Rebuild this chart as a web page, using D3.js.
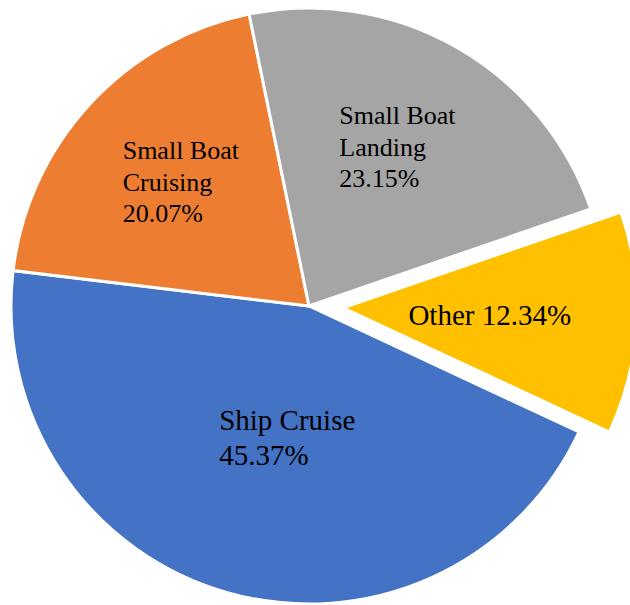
<!DOCTYPE html>
<html>
<head>
<meta charset="utf-8">
<script src="https://cdn.jsdelivr.net/npm/d3@7"></script>
<style>
  body { margin: 0; background: #fff; }
</style>
</head>
<body>
<script>
// chart data
var categories = ["Ship Cruise", "Small Boat Cruising", "Small Boat Landing", "Other"];
var labelLines = [["Ship Cruise"], ["Small Boat", "Cruising"], ["Small Boat", "Landing"], ["Other"]];
var values = [45.37, 20.07, 23.15, 12.34];
var colors = ["#4472C4", "#ED7D31", "#A5A5A5", "#FFC000"];

var width = 630, height = 605,
    cx = 309, cy = 306, radius = 298;

var svg = d3.select("body").append("svg")
    .attr("width", width)
    .attr("height", height)
    .append("g")
    .attr("transform", "translate(" + cx + "," + cy + ")");

var deg = Math.PI / 180;
var pie = d3.pie()
    .sort(null)
    .value(function(d) { return d.value; })
    .startAngle(115 * deg)
    .endAngle(475 * deg);

var data = categories.map(function(c, i) {
    return {name: c, lines: labelLines[i], value: values[i], color: colors[i]};
});
var arcs = pie(data);

// the "Other" slice is pulled out
var explode = {"Other": 34};
var rOut = {"Other": 294};
// label placement: radius and angle nudge (deg) from the slice middle
var lbl = {
    "Ship Cruise": {r: 133, da: -6.5, size: 29},
    "Small Boat Cruising": {r: 178, da: 1.5, size: 26},
    "Small Boat Landing": {r: 182, da: -0.5, size: 26},
    "Other": {r: 147, da: 0, size: 29}
};

function offset(d) {
    var e = explode[d.data.name] || 0;
    var a = (d.startAngle + d.endAngle) / 2;
    return [Math.sin(a) * e, -Math.cos(a) * e];
}

var slices = svg.selectAll(".slice")
    .data(arcs)
    .enter().append("g")
    .attr("class", "slice")
    .attr("transform", function(d) { return "translate(" + offset(d) + ")"; });

slices.append("path")
    .attr("d", function(d) {
        return d3.arc().innerRadius(0).outerRadius(rOut[d.data.name] || radius)(d);
    })
    .attr("fill", function(d) { return d.data.color; })
    .attr("stroke", "#fff")
    .attr("stroke-width", 3)
    .attr("stroke-linejoin", "miter");

// labels, one text element per line
slices.each(function(d) {
    var g = d3.select(this);
    var o = lbl[d.data.name];
    var a = (d.startAngle + d.endAngle) / 2 + o.da * deg;
    var x = Math.sin(a) * o.r, y = -Math.cos(a) * o.r;
    var pct = d.data.value.toFixed(2) + "%";
    var lines = d.data.lines.slice();
    if (d.data.name == "Other") lines = [lines[0] + " " + pct];
    else lines.push(pct);
    var lh = o.size * 1.2;
    var box = g.append("g");
    lines.forEach(function(s, i) {
        box.append("text")
            .attr("x", 0)
            .attr("y", i * lh)
            .style("font-family", '"Liberation Serif", serif')
            .style("font-size", o.size + "px")
            .style("fill", "#000")
            .text(s);
    });
    var bb = box.node().getBBox();
    box.attr("transform", "translate(" + (x - bb.width / 2 - bb.x) + "," + (y - bb.height / 2 - bb.y) + ")");
});
</script>
</body>
</html>
